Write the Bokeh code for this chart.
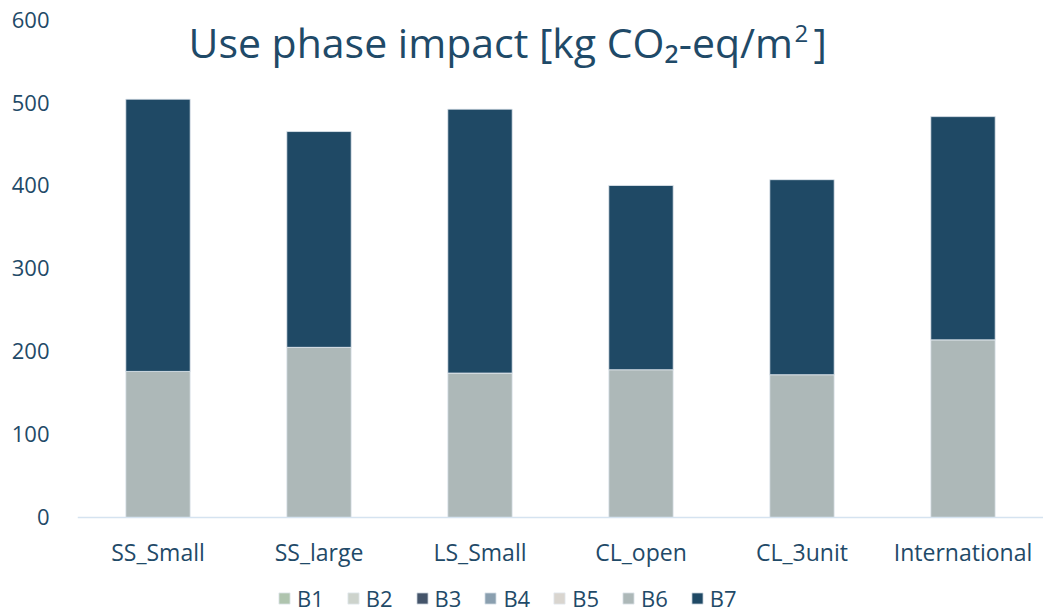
from bokeh.plotting import figure
from bokeh.models import ColumnDataSource, Legend, LegendItem, Label, Range1d
from bokeh.embed import file_html
from bokeh.resources import INLINE

categories = ["SS_Small", "SS_large", "LS_Small", "CL_open", "CL_3unit", "International"]
series_names = ["B1", "B2", "B3", "B4", "B5", "B6", "B7"]
B1 = [0, 0, 0, 0, 0, 0]
B2 = [0, 0, 0, 0, 0, 0]
B3 = [0, 0, 0, 0, 0, 0]
B4 = [0, 0, 0, 0, 0, 0]
B5 = [0, 0, 0, 0, 0, 0]
B6 = [176, 205, 174, 178, 172, 214]
B7 = [328, 260, 318, 222, 235, 269]
colors = ["#AFC4AE", "#CDD3CC", "#44546A", "#8A9FAF", "#D9D5CF", "#ADB8B8", "#1F4965"]
y_ticks = [0, 100, 200, 300, 400, 500, 600]

TEXT = "#1F4A68"
FONT = "Open Sans"

data = {"cat": categories, "B1": B1, "B2": B2, "B3": B3, "B4": B4, "B5": B5, "B6": B6, "B7": B7}
src = ColumnDataSource(data)

# frame runs from the top to the bottom of the page; the value axis shows 0..600
p = figure(x_range=categories, y_range=Range1d(-116.9, 622.9),
           frame_width=966, frame_height=614,
           output_backend="svg", toolbar_location=None,
           min_border_left=77, min_border_right=0, min_border_top=0, min_border_bottom=0)
p.outline_line_color = None
p.xgrid.grid_line_color = None
p.ygrid.grid_line_color = None
p.x_range.range_padding = 0

renderers = p.vbar_stack(series_names, x="cat", width=0.4, source=src, color=colors,
                         line_color="#E3EAF0", line_width=0.8)

p.yaxis.ticker = y_ticks
p.yaxis.axis_line_color = None
p.yaxis.major_tick_line_color = None
p.yaxis.minor_tick_line_color = None
p.yaxis.major_label_text_font = FONT
p.yaxis.major_label_text_font_size = "22px"
p.yaxis.major_label_text_color = TEXT
p.yaxis.major_label_standoff = 22

p.xaxis.fixed_location = 0
p.xaxis.axis_line_color = "#D5E3F0"
p.xaxis.axis_line_width = 1.5
p.xaxis.major_tick_line_color = None
p.xaxis.minor_tick_line_color = None
p.xaxis.major_label_text_font = FONT
p.xaxis.major_label_text_font_size = "23px"
p.xaxis.major_label_text_color = TEXT
p.xaxis.major_label_standoff = 13

items = [LegendItem(label=n, renderers=[r]) for n, r in zip(series_names, renderers)]
legend = Legend(items=items, orientation="horizontal", location=(200, 1),
                glyph_width=14, glyph_height=14, label_standoff=6, spacing=22,
                label_text_font=FONT, label_text_font_size="22px", label_text_color=TEXT,
                label_height=20,
                border_line_color=None, background_fill_alpha=0, padding=0, margin=0)
p.add_layout(legend)

title_main = Label(x=111, y=573, x_units="screen", y_units="screen",
                   text="Use phase impact [kg CO\u2082-eq/m", text_baseline="alphabetic",
                   text_font=FONT, text_font_size="41px", text_color=TEXT)
title_sup = Label(x=717, y=581, x_units="screen", y_units="screen", text="2",
                  text_baseline="alphabetic",
                  text_font=FONT, text_font_size="24px", text_color=TEXT)
title_end = Label(x=736, y=573, x_units="screen", y_units="screen", text="]",
                  text_baseline="alphabetic",
                  text_font=FONT, text_font_size="41px", text_color=TEXT)
p.add_layout(title_main)
p.add_layout(title_sup)
p.add_layout(title_end)

open("out.html", "w").write(file_html(p, INLINE))
